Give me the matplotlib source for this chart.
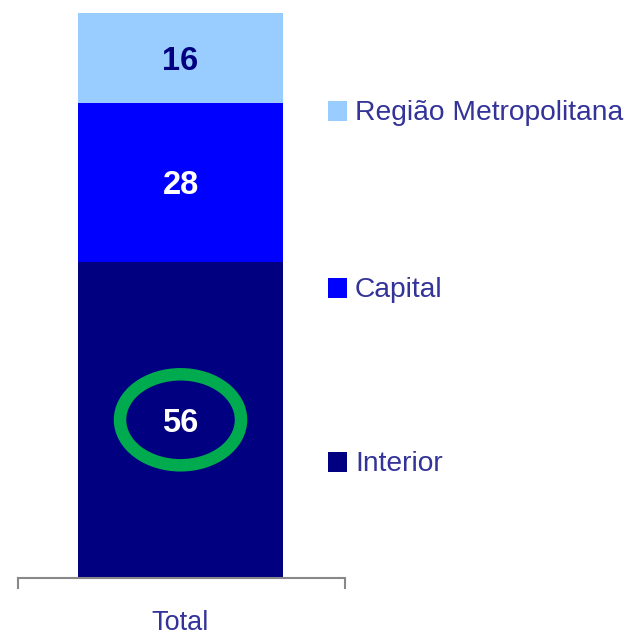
import matplotlib
matplotlib.use("Agg")
import matplotlib.pyplot as plt
from matplotlib.patches import Ellipse, Rectangle

plt.rcParams['font.family'] = ['Liberation Sans', 'DejaVu Sans']

category = "Total"
series = ["Interior", "Capital", "Região Metropolitana"]
values = [56, 28, 16]
colors = ["#000080", "#0000FF", "#99CCFF"]
label_colors = ["white", "white", "#000080"]
text_color = "#333399"

W, H = 635, 636
fig = plt.figure(figsize=(W / 100, H / 100), dpi=100)
ax = fig.add_axes([18 / W, (H - 578) / H, 327 / W, 565 / H])
ax.set_xlim(0, 1)
ax.set_ylim(0, 100)

x = 0.497
bw = 0.627
bottom = 0
for v, c, lc in zip(values, colors, label_colors):
    ax.bar(x, v, bw, bottom=bottom, color=c, linewidth=0)
    ax.text(x, bottom + v / 2 - 0.6, str(v), ha='center', va='center',
            color=lc, fontsize=23.5, fontweight='bold')
    bottom += v

# highlight around the Interior value
ax.add_patch(Ellipse((x, values[0] / 2), 121 / 327, 91 / 565 * 100,
                     fill=False, edgecolor="#00AA4F", linewidth=9))

for s in ['top', 'right', 'left']:
    ax.spines[s].set_visible(False)
ax.spines['bottom'].set_color('#888888')
ax.spines['bottom'].set_linewidth(1.5)
ax.set_yticks([])
ax.set_xticks([0, 1])
ax.set_xticklabels(['', ''])
ax.tick_params(axis='x', length=8, width=1.5, color='#888888')
ax.text(x, -8.0, category, ha='center', va='center', color=text_color, fontsize=19.5)

# legend
leg_y = [462, 288, 111]
for name, c, yy in zip(series, colors, leg_y):
    fig.patches.append(Rectangle((328 / W, 1 - (yy + 10) / H), 19 / W, 20 / H,
                                 transform=fig.transFigure, color=c, linewidth=0))
    fig.text(355 / W, 1 - (yy + 2) / H, name, ha='left', va='center',
             color=text_color, fontsize=20.3)

fig.savefig("out.png", dpi=100)
